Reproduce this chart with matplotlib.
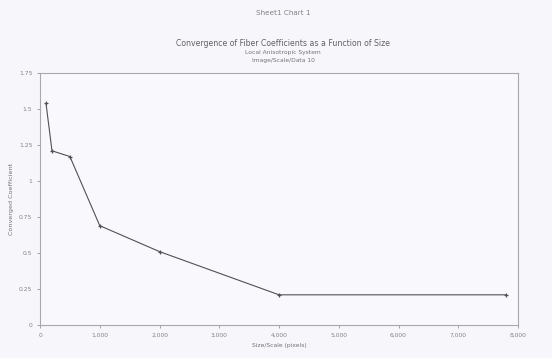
import numpy as np
import matplotlib.pyplot as plt

# sample sizes and the converged coefficient at each size
sizes = [100, 200, 500, 1000, 2000, 4000, 7800]
coeff = [1.54, 1.21, 1.17, 0.69, 0.51, 0.21, 0.21]
yticks = [0, 0.25, 0.5, 0.75, 1, 1.25, 1.5, 1.75]
xticks = [0, 1000, 2000, 3000, 4000, 5000, 6000, 7000, 8000]

fig = plt.figure(figsize=(5.52, 3.58), dpi=100)
fig.patch.set_facecolor('#f7f7fb')
ax = fig.add_axes([0.0725, 0.092, 0.866, 0.704])
ax.set_facecolor('#f9f9fd')

ax.plot(sizes, coeff, color='#505058', lw=0.8, marker='+', ms=3, mew=0.9)

ax.set_xlim(0, 8000)
ax.set_ylim(0, 1.75)
ax.set_xticks(xticks)
ax.set_xticklabels(['0'] + ['{:,}'.format(v) for v in xticks[1:]])
ax.set_yticks(yticks)
ax.set_yticklabels(['0', '0.25', '0.5', '0.75', '1', '1.25', '1.5', '1.75'])
ax.tick_params(labelsize=4.3, colors='#808088', length=2, width=0.5)
for s in ax.spines.values():
    s.set_color('#a8a8b0')
    s.set_linewidth(0.8)

ax.set_xlabel('Size/Scale (pixels)', fontsize=4.3, color='#707078')
ax.xaxis.set_label_coords(0.5, -0.07)
ax.set_ylabel('Converged Coefficient', fontsize=4.6, color='#707078')
ax.yaxis.set_label_coords(-0.055, 0.5)

fig.text(0.513, 0.958, 'Sheet1 Chart 1', ha='center', fontsize=5.2, color='#808088')
fig.text(0.513, 0.872, 'Convergence of Fiber Coefficients as a Function of Size',
         ha='center', fontsize=5.6, color='#606068')
fig.text(0.513, 0.848, 'Local Anisotropic System', ha='center', fontsize=4.3, color='#707078')
fig.text(0.513, 0.826, 'Image/Scale/Data 10', ha='center', fontsize=4.3, color='#707078')

fig.savefig('out.png', dpi=100, facecolor=fig.get_facecolor())
